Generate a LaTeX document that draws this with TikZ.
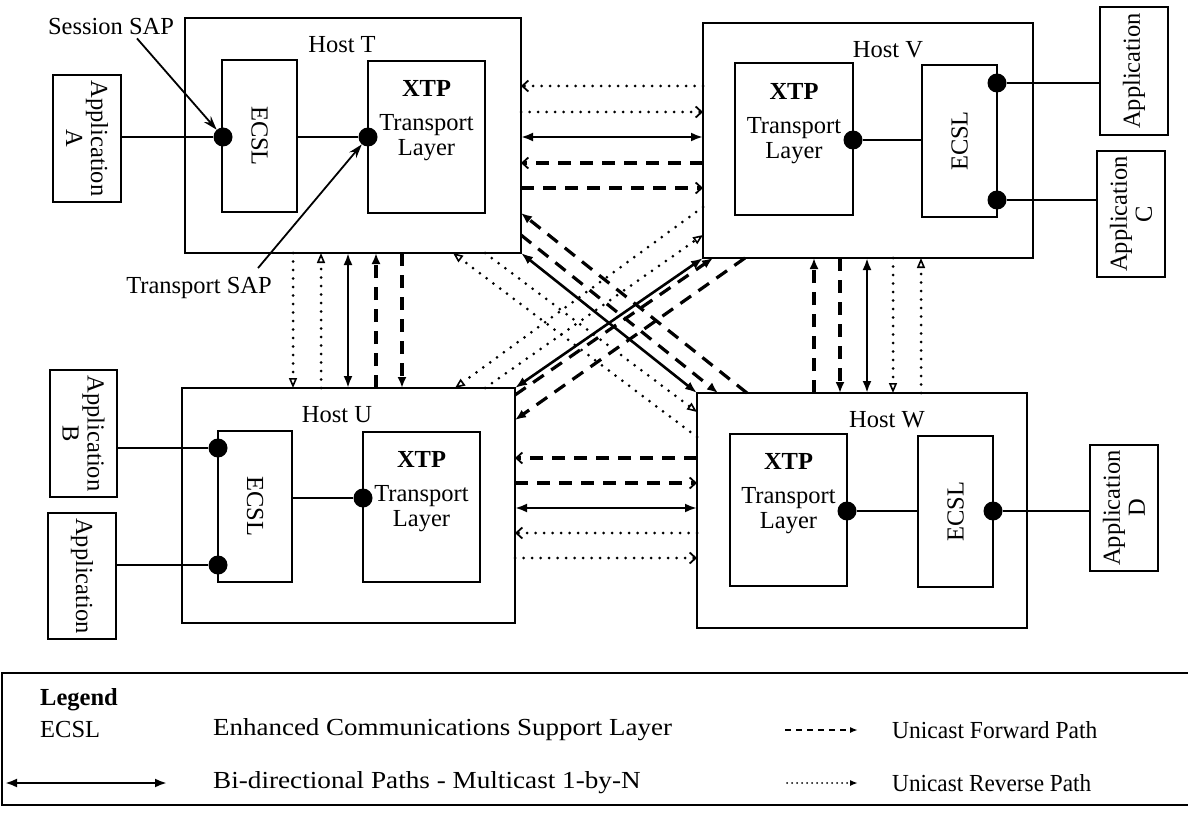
\documentclass[tikz,border=0pt]{standalone}
\usepackage{fontspec}
\setmainfont{Liberation Serif}
\usetikzlibrary{arrows.meta,calc}

\newcommand\dgfont{\fontsize{24.5}{25}\selectfont}

\begin{document}
\begin{tikzpicture}[x=1pt,y=-1pt,
  box/.style={draw, line width=1.8pt, inner sep=0pt, outer sep=0pt, anchor=north west},
  txt/.style={inner sep=0pt, font=\dgfont, align=center},
  btxt/.style={inner sep=0pt, font=\dgfont\bfseries, align=center},
  dot/.style={circle, fill=black, inner sep=0pt, minimum size=19pt},
  wire/.style={line width=1.8pt},
  ptr/.style={line width=1.8pt, -{Stealth[length=14pt,width=9pt]}},
  bi/.style={line width=2.6pt, {Latex[length=12pt,width=9pt]}-{Latex[length=12pt,width=9pt]}},
  fwd/.style={line width=3.2pt, dash pattern=on 13pt off 9pt},
  rev/.style={line width=3pt, dash pattern=on 0pt off 8.5pt, line cap=round},
  barb/.style={-{Straight Barb[length=6pt,width=11pt,line width=1.8pt]}},
  tri/.style={-{Latex[length=11pt,width=9pt]}},
  otri/.style={-{Triangle[open,length=10pt,width=8pt,line width=1.6pt]}},
]
\useasboundingbox (0,0) rectangle (1188,813);

% ---------- hosts ----------
\node[box, minimum width=336pt, minimum height=235pt] (T) at (185,18) {};
\node[box, minimum width=330pt, minimum height=235pt] (V) at (703,23) {};
\node[box, minimum width=333pt, minimum height=235pt] (U) at (182,388) {};
\node[box, minimum width=330pt, minimum height=235pt] (W) at (697,393) {};

\node[txt] (hT) at (342,45) {Host T};
\node[txt] (hV) at (888,50) {Host V};
\node[txt] (hU) at (337,415) {Host U};
\node[txt] (hW) at (887,420) {Host W};

% ---------- layers inside the hosts ----------
\node[box, minimum width=75pt, minimum height=152pt] (ecslT) at (222,60) {};
\node[box, minimum width=117pt, minimum height=152pt] (xtpT) at (368,61) {};
\node[box, minimum width=118pt, minimum height=152pt] (xtpV) at (735,63) {};
\node[box, minimum width=75pt, minimum height=152pt] (ecslV) at (922,65) {};
\node[box, minimum width=74pt, minimum height=151pt] (ecslU) at (218,431) {};
\node[box, minimum width=117pt, minimum height=150pt] (xtpU) at (363,432) {};
\node[box, minimum width=117pt, minimum height=152pt] (xtpW) at (730,434) {};
\node[box, minimum width=75pt, minimum height=151pt] (ecslW) at (918,436) {};

\node[txt, rotate=-90] (eT) at (ecslT) {ECSL};
\node[txt, rotate=90]  (eV) at (ecslV) {ECSL};
\node[txt, rotate=-90] (eU) at (ecslU) {ECSL};
\node[txt, rotate=90]  (eW) at (ecslW) {ECSL};

\node[txt, anchor=north] (xT) at ([yshift=-19pt]xtpT.north) {\textbf{XTP}\\[9pt]Transport\\Layer};
\node[txt, anchor=north] (xV) at ([yshift=-20pt]xtpV.north) {\textbf{XTP}\\[9pt]Transport\\Layer};
\node[txt, anchor=north] (xU) at ([yshift=-19pt]xtpU.north) {\textbf{XTP}\\[9pt]Transport\\Layer};
\node[txt, anchor=north] (xW) at ([yshift=-19pt]xtpW.north) {\textbf{XTP}\\[9pt]Transport\\Layer};

% ---------- applications ----------
\node[box, minimum width=68pt, minimum height=127pt] (appA) at (53,75) {};
\node[box, minimum width=68pt, minimum height=128pt] (appV1) at (1100,7) {};
\node[box, minimum width=68pt, minimum height=126pt] (appC) at (1097,151) {};
\node[box, minimum width=67pt, minimum height=127pt] (appB) at (50,370) {};
\node[box, minimum width=68pt, minimum height=126pt] (appU2) at (48,513) {};
\node[box, minimum width=68pt, minimum height=126pt] (appD) at (1090,445) {};

\node[txt, rotate=-90] (tA) at (appA) {Application\\A};
\node[txt, rotate=90]  (tV1) at (appV1) {Application};
\node[txt, rotate=90]  (tC) at (appC) {Application\\C};
\node[txt, rotate=-90] (tB) at (appB) {Application\\B};
\node[txt, rotate=-90] (tU2) at (appU2) {Application};
\node[txt, rotate=90]  (tD) at (appD) {Application\\D};

% ---------- service access points ----------
\node[dot] (sessT) at (223,137) {};
\node[dot] (trT) at (368,137) {};
\node[dot] (trV) at (853,140) {};
\node[dot] (s1V) at (997,83) {};
\node[dot] (s2V) at (997,200) {};
\node[dot] (s1U) at (218,448) {};
\node[dot] (s2U) at (218,565) {};
\node[dot] (trU) at (363,498) {};
\node[dot] (trW) at (847,511) {};
\node[dot] (sW) at (993,511) {};

\draw[wire] (sessT) -- (sessT -| appA.east);
\draw[wire] (trT) -- (trT -| ecslT.east);
\draw[wire] (trV) -- (trV -| ecslV.west);
\draw[wire] (s1V) -- (s1V -| appV1.west);
\draw[wire] (s2V) -- (s2V -| appC.west);
\draw[wire] (s1V) -- (s2V);
\draw[wire] (s1U) -- (s1U -| appB.east);
\draw[wire] (s2U) -- (s2U -| appU2.east);
\draw[wire] (s1U) -- (s2U);
\draw[wire] (trU) -- (trU -| ecslU.east);
\draw[wire] (trW) -- (trW -| ecslW.west);
\draw[wire] (sW) -- (sW -| appD.west);

\node[txt] (sesLbl) at (111,27) {Session SAP};
\node[txt] (trLbl) at (199,288) {Transport SAP};
\draw[ptr] ([xshift=26pt,yshift=-3pt]sesLbl.south) -- (sessT);
\draw[ptr] ([xshift=59pt,yshift=9pt]trLbl.north) -- (trT);

% ---------- T <-> U ----------
\path ([xshift=108pt]T.south west) coordinate (tu1)
      ([xshift=136pt]T.south west) coordinate (tu2)
      ([xshift=163pt]T.south west) coordinate (tu3)
      ([xshift=191pt]T.south west) coordinate (tu4)
      ([xshift=217pt]T.south west) coordinate (tu5);
\draw[rev,otri] (tu1) -- (tu1 |- U.north);
\draw[rev,otri] (tu2 |- U.north) -- (tu2);
\draw[bi] (tu3) -- (tu3 |- U.north);
\draw[fwd,tri] (tu4 |- U.north) -- (tu4);
\draw[fwd,tri] (tu5) -- (tu5 |- U.north);

% ---------- V <-> W ----------
\path ([xshift=111pt]V.south west) coordinate (vw1)
      ([xshift=137pt]V.south west) coordinate (vw2)
      ([xshift=164pt]V.south west) coordinate (vw3)
      ([xshift=190pt]V.south west) coordinate (vw4)
      ([xshift=218pt]V.south west) coordinate (vw5);
\draw[fwd,tri] (vw1 |- W.north) -- (vw1);
\draw[fwd,tri] (vw2) -- (vw2 |- W.north);
\draw[bi] (vw3) -- (vw3 |- W.north);
\draw[rev,otri] (vw4) -- (vw4 |- W.north);
\draw[rev,otri] (vw5 |- W.north) -- (vw5);

% ---------- T <-> V ----------
\path ([yshift=-68pt]T.north east) coordinate (tv1)
      ([yshift=-94pt]T.north east) coordinate (tv2)
      ([yshift=-119pt]T.north east) coordinate (tv3)
      ([yshift=-145pt]T.north east) coordinate (tv4)
      ([yshift=-170pt]T.north east) coordinate (tv5);
\draw[rev,barb] (tv1 -| V.west) -- (tv1);
\draw[rev,barb] (tv2) -- (tv2 -| V.west);
\draw[bi] (tv3) -- (tv3 -| V.west);
\draw[fwd,barb] (tv4 -| V.west) -- (tv4);
\draw[fwd,barb] (tv5) -- (tv5 -| V.west);

% ---------- U <-> W ----------
\path ([yshift=-70pt]U.north east) coordinate (uw1)
      ([yshift=-95pt]U.north east) coordinate (uw2)
      ([yshift=-120pt]U.north east) coordinate (uw3)
      ([yshift=-145pt]U.north east) coordinate (uw4)
      ([yshift=-170pt]U.north east) coordinate (uw5);
\draw[fwd,barb] (uw1 -| W.west) -- (uw1);
\draw[fwd,barb] (uw2) -- (uw2 -| W.west);
\draw[bi] (uw3) -- (uw3 -| W.west);
\draw[rev,barb] (uw4 -| W.west) -- (uw4);
\draw[rev,barb] (uw5) -- (uw5 -| W.west);

% ---------- crossing paths ----------
\draw[bi] (T.south east) -- (W.north west);
\draw[bi] (V.south west) -- (U.north east);
\draw[fwd,tri] ([xshift=50pt]W.north west) -- ([yshift=40pt]T.south east);
\draw[fwd,tri] ([yshift=18pt]T.south east) -- ([xshift=21pt]W.north west);
\draw[fwd,tri] ([yshift=-7pt]U.north east) -- ([xshift=10pt]V.south west);
\draw[fwd,tri] ([xshift=42pt]V.south west) -- ([yshift=-32pt]U.north east);
\draw[rev,otri] ([yshift=-44pt]W.north west) -- ([xshift=-68pt]T.south east);
\draw[rev,otri] ([xshift=-36pt]T.south east) -- ([yshift=-19pt]W.north west);
\draw[rev,otri] ([yshift=51pt]V.south west) -- ([xshift=-60pt]U.north east);
\draw[rev,otri] ([xshift=-30pt]U.north east) -- ([yshift=23pt]V.south west);

% ---------- legend ----------
\draw[line width=1.6pt] (1188,673) -- (2,673) -- (2,805) -- (1188,805);
\node[btxt, anchor=west] (lgT) at (40,700) {Legend};
\node[txt, anchor=west] (lgE) at (40,730) {ECSL};
\node[txt, anchor=west] (lgEd) at (213,730) {\scalebox{1.1}[1]{Enhanced Communications Support Layer}};
\coordinate (lgb1) at (5,783);
\coordinate (lgb2) at (167,783);
\draw[bi] (lgb1) -- (lgb2);
\node[txt, anchor=west] (lgBd) at (213,783) {\scalebox{1.11}[1]{Bi-directional Paths - Multicast 1-by-N}};
\coordinate (lgf1) at (785,730);
\coordinate (lgf2) at (858,730);
\draw[line width=2pt, dash pattern=on 6pt off 5pt, -{Latex[length=8pt,width=6pt]}] (lgf1) -- (lgf2);
\node[txt, anchor=west] (lgFd) at (892,730) {\scalebox{0.96}[1]{Unicast Forward Path}};
\coordinate (lgr1) at (787,783);
\coordinate (lgr2) at (858,783);
\draw[line width=2pt, dash pattern=on 0pt off 5pt, line cap=round, -{Latex[length=8pt,width=6pt]}] (lgr1) -- (lgr2);
\node[txt, anchor=west] (lgRd) at (892,783) {\scalebox{0.95}[1]{Unicast Reverse Path}};
\end{tikzpicture}
\end{document}
